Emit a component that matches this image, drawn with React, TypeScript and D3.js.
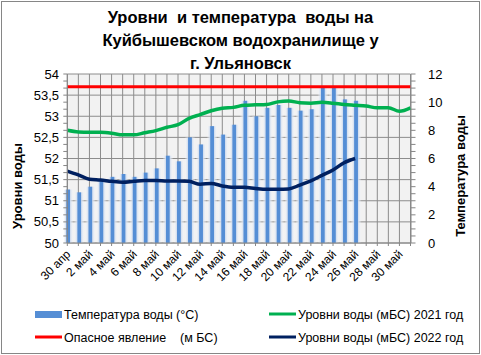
import React from "react";
import * as d3 from "d3";

const categories = [
  "30 апр", "1 май", "2 май", "3 май", "4 май", "5 май", "6 май", "7 май", "8 май", "9 май",
  "10 май", "11 май", "12 май", "13 май", "14 май", "15 май", "16 май", "17 май", "18 май", "19 май",
  "20 май", "21 май", "22 май", "23 май", "24 май", "25 май", "26 май", "27 май", "28 май", "29 май",
  "30 май", "31 май",
];

const temperature = [
  3.8, 3.6, 4.0, 4.4, 4.7, 4.9, 4.7, 5.0, 5.3, 6.2, 5.8, 7.5, 7.0, 8.3, 7.7, 8.4, 10.1, 9.0, 9.6, 9.8,
  9.6, 9.4, 9.5, 11.1, 11.1, 10.2, 10.1,
];

const level2021 = [
  52.67, 52.63, 52.62, 52.62, 52.6, 52.56, 52.56, 52.61, 52.66, 52.74, 52.8, 52.95, 53.04, 53.13, 53.19,
  53.21, 53.26, 53.27, 53.28, 53.34, 53.36, 53.32, 53.31, 53.33, 53.31, 53.28, 53.26, 53.24, 53.2, 53.2,
  53.12, 53.2,
];

const level2022 = [
  51.7, 51.61, 51.51, 51.49, 51.46, 51.44, 51.46, 51.48, 51.48, 51.47, 51.47, 51.46, 51.39, 51.41, 51.35,
  51.32, 51.32, 51.29, 51.27, 51.27, 51.28, 51.37, 51.47, 51.6, 51.73, 51.9, 52.0,
];

const dangerLevel = 53.7;

const leftTicks = [50, 50.5, 51, 51.5, 52, 52.5, 53, 53.5, 54];
const rightTicks = [0, 2, 4, 6, 8, 10, 12];

const titleLines = [
  "Уровни  и температура  воды на",
  "Куйбышевском водохранилище у",
  "г. Ульяновск",
];

const FONT = "'Liberation Sans', Arial, sans-serif";

export default function App() {
  const W = 481;
  const H = 355;
  const left = 67.3;
  const right = 410.5;
  const top = 74;
  const bottom = 243;

  const x = d3.scalePoint<string>().domain(categories).range([left, right]);
  const yL = d3.scaleLinear().domain([50, 54]).range([bottom, top]);
  const yR = d3.scaleLinear().domain([0, 12]).range([bottom, top]);

  const line21 = d3
    .line<number>()
    .x((_, i) => x(categories[i]) as number)
    .y((d) => yL(d))
    .curve(d3.curveMonotoneX);

  const hGrid = leftTicks;
  const minorCount = 24;
  const minor = d3.range(minorCount + 1).map((i) => top + ((bottom - top) * i) / minorCount);

  const bw = 11;

  return (
    <svg width={W} height={H} style={{ position: "absolute", left: 0, top: 0 }} fontFamily={FONT}>
      <defs>
        <linearGradient id="barGrad" x1="0" x2="1" y1="0" y2="0">
          <stop offset="0%" stopColor="#ffffff" stopOpacity={0} />
          <stop offset="28%" stopColor="#cfdcef" stopOpacity={0.9} />
          <stop offset="36%" stopColor="#558ed5" stopOpacity={1} />
          <stop offset="62%" stopColor="#558ed5" stopOpacity={1} />
          <stop offset="70%" stopColor="#cfdcef" stopOpacity={0.9} />
          <stop offset="100%" stopColor="#ffffff" stopOpacity={0} />
        </linearGradient>
      </defs>
      <rect x={0} y={0} width={W} height={H} fill="#ffffff" />
      <rect x={1.5} y={1.5} width={W - 3} height={H - 3} fill="none" stroke="#868686" strokeWidth={1} />

      {titleLines.map((t, i) => (
        <text
          key={i}
          x={240.5}
          y={23 + i * 23}
          textAnchor="middle"
          fontSize={16.5}
          fontWeight="bold"
          fill="#000"
          style={{ whiteSpace: "pre" }}
        >
          {t}
        </text>
      ))}

      <rect x={left} y={top} width={right - left} height={bottom - top} fill="#f2f2f2" />

      {hGrid.map((v) => (
        <line key={"h" + v} x1={left} x2={right} y1={yL(v)} y2={yL(v)} stroke="#8c8c8c" strokeWidth={1} />
      ))}
      {categories.map((c) => (
        <line key={"v" + c} x1={x(c)} x2={x(c)} y1={top} y2={bottom} stroke="#8c8c8c" strokeWidth={1} />
      ))}

      {temperature.map((t, i) => (
        <rect
          key={"b" + i}
          x={(x(categories[i]) as number) + 1 - bw / 2}
          y={yR(t)}
          width={bw}
          height={bottom - yR(t)}
          fill="url(#barGrad)"
        />
      ))}

      <line x1={left} x2={right} y1={yL(dangerLevel)} y2={yL(dangerLevel)} stroke="#ff0000" strokeWidth={3} />
      <path d={line21(level2021) || ""} fill="none" stroke="#00b050" strokeWidth={3.5} strokeLinejoin="round" />
      <path d={line21(level2022) || ""} fill="none" stroke="#002060" strokeWidth={3.5} strokeLinejoin="round" />

      {/* axes */}
      <line x1={left} x2={left} y1={top} y2={bottom} stroke="#868686" />
      <line x1={right + 0.5} x2={right + 0.5} y1={top} y2={bottom} stroke="#868686" />
      <line x1={left} x2={right} y1={bottom} y2={bottom} stroke="#868686" />
      {minor.map((yy, i) => (
        <g key={"m" + i}>
          <line x1={left - 4} x2={left} y1={yy} y2={yy} stroke="#868686" />
          <line x1={right + 0.5} x2={right + 5} y1={yy} y2={yy} stroke="#868686" />
        </g>
      ))}
      {categories.map((c) => (
        <line key={"t" + c} x1={x(c)} x2={x(c)} y1={bottom} y2={bottom + 3} stroke="#868686" />
      ))}

      {leftTicks.map((v) => (
        <text key={"l" + v} x={59} y={yL(v) + 4.5} textAnchor="end" fontSize={13} fill="#000">
          {String(v).replace(".", ",")}
        </text>
      ))}
      {rightTicks.map((v) => (
        <text key={"r" + v} x={428} y={yR(v) + 4.5} textAnchor="start" fontSize={13} fill="#000">
          {v}
        </text>
      ))}

      {categories.map((c, i) =>
        i % 2 === 0 ? (
          <text
            key={"x" + c}
            transform={`translate(${(x(c) as number) + 4},${bottom + 12}) rotate(-45)`}
            textAnchor="end"
            fontSize={12}
            fill="#000"
          >
            {c}
          </text>
        ) : null
      )}

      <text transform="translate(22,186) rotate(-90)" textAnchor="middle" fontSize={13} fontWeight="bold" fill="#000">
        Уровни воды
      </text>
      <text transform="translate(465,176) rotate(-90)" textAnchor="middle" fontSize={13} fontWeight="bold" fill="#000">
        Температура воды
      </text>

      {/* legend */}
      <rect x={35} y={311} width={27} height={7} fill="#558ed5" />
      <text x={64} y={319} fontSize={12.5} fill="#000">Температура воды (°С)</text>
      <line x1={35} x2={62} y1={337} y2={337} stroke="#ff0000" strokeWidth={3} />
      <text x={64} y={342} fontSize={12.5} fill="#000" style={{ whiteSpace: "pre" }}>
        {"Опасное явление    (м БС)"}
      </text>
      <line x1={269} x2={296} y1={314} y2={314} stroke="#00b050" strokeWidth={3} />
      <text x={298} y={319} fontSize={12.5} fill="#000">Уровни воды (мБС) 2021 год</text>
      <line x1={269} x2={296} y1={337} y2={337} stroke="#002060" strokeWidth={3} />
      <text x={298} y={342} fontSize={12.5} fill="#000">Уровни воды (мБС) 2022 год</text>
    </svg>
  );
}
